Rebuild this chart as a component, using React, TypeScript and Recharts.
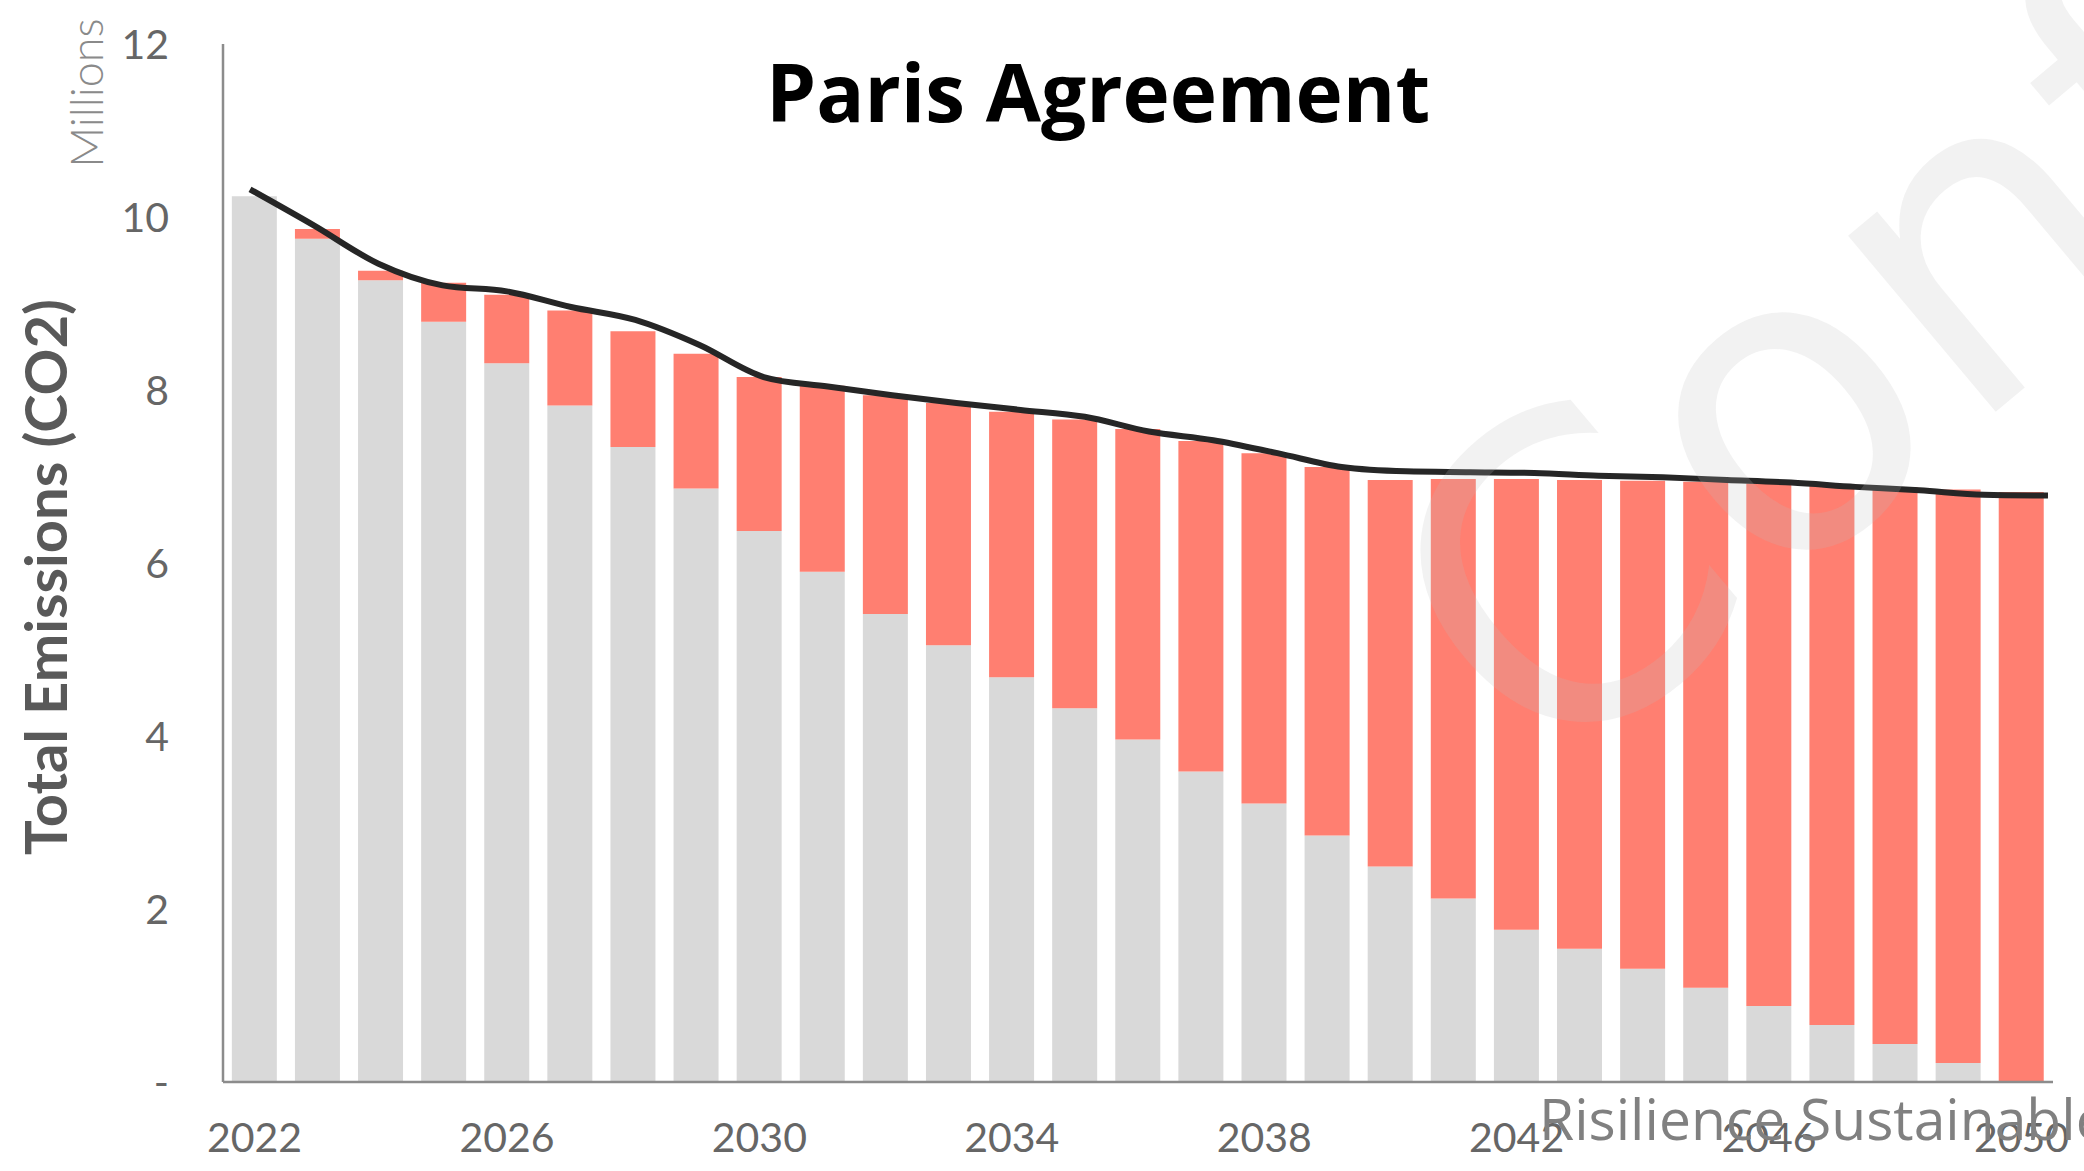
import React from 'react';
import { ComposedChart, Bar, Line, XAxis, YAxis } from 'recharts';

const years = [
  '2022', '2023', '2024', '2025', '2026', '2027', '2028', '2029', '2030', '2031',
  '2032', '2033', '2034', '2035', '2036', '2037', '2038', '2039', '2040', '2041',
  '2042', '2043', '2044', '2045', '2046', '2047', '2048', '2049', '2050',
];

// grey portion (remaining emissions)
const remaining = [
  10.24, 9.75, 9.27, 8.79, 8.31, 7.82, 7.34, 6.86, 6.37, 5.9,
  5.41, 5.05, 4.68, 4.32, 3.96, 3.59, 3.22, 2.85, 2.49, 2.12,
  1.76, 1.54, 1.31, 1.09, 0.88, 0.66, 0.44, 0.22, 0,
];

// red portion (reduction gap)
const gap = [
  0, 0.11, 0.11, 0.45, 0.79, 1.1, 1.34, 1.56, 1.78, 2.15,
  2.53, 2.8, 3.07, 3.34, 3.59, 3.82, 4.05, 4.26, 4.47, 4.85,
  5.21, 5.42, 5.64, 5.85, 6.04, 6.24, 6.44, 6.63, 6.82,
];

// black pathway line
const pathway = [
  10.32, 9.9, 9.46, 9.21, 9.14, 8.96, 8.81, 8.52, 8.15, 8.04,
  7.94, 7.85, 7.77, 7.69, 7.52, 7.42, 7.27, 7.11, 7.06, 7.05,
  7.04, 7.01, 6.99, 6.96, 6.93, 6.88, 6.84, 6.79, 6.78,
];

const yTicks = [0, 2, 4, 6, 8, 10, 12];
const lineDomain = [-0.4205, 28.078];

const data = years.map((year, i) => ({
  year,
  i,
  remaining: remaining[i],
  gap: gap[i],
  pathway: pathway[i],
}));

const axisColor = '#8c8c8c';
const tickStyle = { fill: '#666666', fontSize: 41, fontFamily: 'Lato' };

export default function App() {
  return (
    <div style={{ position: 'absolute', left: 0, top: 0, width: 2084, height: 1171, background: '#fff' }}>
      <ComposedChart
        width={2084}
        height={1171}
        data={data}
        margin={{ top: 44, right: 31, bottom: 0, left: 123 }}
        barCategoryGap="14%"
      >
        <XAxis
          xAxisId="cat"
          dataKey="year"
          interval={3}
          height={89}
          tickLine={false}
          tickSize={0}
          tickMargin={41}
          axisLine={{ stroke: axisColor, strokeWidth: 2.5 }}
          tick={tickStyle}
        />
        <XAxis
          xAxisId="num"
          dataKey="i"
          type="number"
          domain={lineDomain}
          allowDataOverflow
          hide
        />
        <YAxis
          domain={[0, 12]}
          ticks={yTicks}
          width={100}
          tickLine={false}
          tickSize={0}
          tickMargin={54}
          axisLine={{ stroke: axisColor, strokeWidth: 2.5 }}
          tick={tickStyle}
          tickFormatter={(v) => (v === 0 ? '-' : String(v))}
        />
        <Bar xAxisId="cat" dataKey="remaining" stackId="a" fill="#D9D9D9" isAnimationActive={false} />
        <Bar xAxisId="cat" dataKey="gap" stackId="a" fill="#FF7F71" isAnimationActive={false} />
        <Line
          xAxisId="num"
          dataKey="pathway"
          type="monotone"
          stroke="#262626"
          strokeWidth={6}
          dot={false}
          activeDot={false}
          isAnimationActive={false}
        />
      </ComposedChart>
      <svg
        width={2084}
        height={1171}
        style={{ position: 'absolute', left: 0, top: 0, pointerEvents: 'none' }}
      >
        <text
          x={1098}
          y={122}
          textAnchor="middle"
          fontFamily="Open Sans"
          fontWeight={700}
          fontSize={80}
          fill="#000"
        >
          Paris Agreement
        </text>
        <text
          transform="translate(86,93) rotate(-90)"
          textAnchor="middle"
          dominantBaseline="central"
          fontFamily="Lato"
          fontWeight={300}
          fontSize={45}
          fill="#8a8a8a"
        >
          Millions
        </text>
        <text
          transform="translate(44,577) rotate(-90)"
          textAnchor="middle"
          dominantBaseline="central"
          fontFamily="Lato"
          fontWeight={700}
          fontSize={58}
          fill="#595959"
        >
          Total Emissions (CO2)
        </text>
        <text
          transform="translate(1545,790) rotate(-40)"
          fontFamily="DejaVu Sans"
          fontWeight={400}
          fontSize={420}
          fill="#BFBFBF"
          fillOpacity={0.2}
        >
          Confidential
        </text>
        <text
          x={1539}
          y={1140}
          fontFamily="Open Sans"
          fontSize={57}
          fill="#808080"
        >
          Risilience Sustainable
        </text>
      </svg>
    </div>
  );
}
